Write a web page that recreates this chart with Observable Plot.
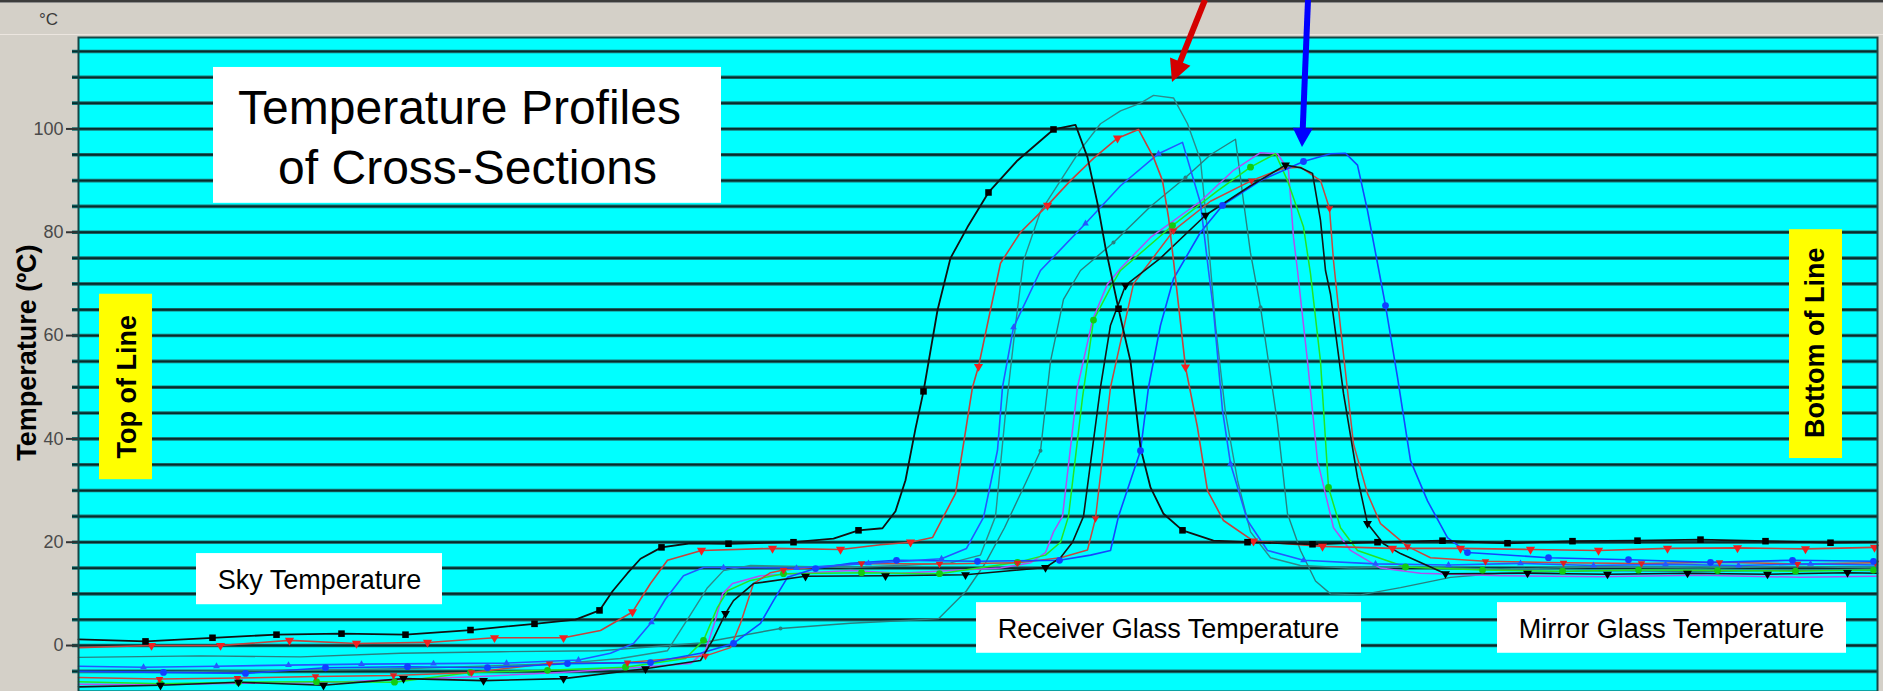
<!DOCTYPE html>
<html><head><meta charset="utf-8">
<script src="https://cdn.jsdelivr.net/npm/d3@7"></script>
<script src="https://cdn.jsdelivr.net/npm/@observablehq/plot@0.6"></script>
<style>
html,body{margin:0;padding:0;background:#d4d0c8;overflow:hidden}
#chart{width:1883px;height:691px}
</style></head>
<body><div id="chart"></div>
<script>
// ---- Data: [scan position, temperature °C, marker flag] ----
const blackSquares = [[0,1.2],[6.7,0.8,1],[13.4,1.5,1],[19.8,2.1,1],[26.3,2.3,1],[32.7,2.1,1],[39.2,3.0,1],[45.6,4.2,1],[49.7,5.0],[52.1,6.8,1],[53.4,10.5],[54.9,14.0],[56.2,16.8],[58.3,19.0,1],[61.2,19.8],[65.0,19.7,1],[71.5,20.0,1],[75.5,20.7],[78.0,22.3,1],[80.4,22.7],[81.7,26.0],[82.7,32.0],[83.7,42.0],[84.5,49.2,1],[85.9,64.9],[87.2,75.0],[88.9,81.0],[91.0,87.7,1],[93.9,93.9],[97.5,99.9,1],[99.7,100.8],[100.9,94.5],[101.9,85.6],[102.7,77.0],[104.0,65.2,1],[105.2,55.0],[106.2,38.3],[107.2,30.6],[108.5,25.5],[110.4,22.3,1],[113.5,20.3],[116.9,20.0,1],[123.4,19.6,1],[129.9,20.0,1],[136.4,20.3,1],[142.9,19.8,1],[149.4,20.2,1],[155.9,20.3,1],[162.2,20.5,1],[168.7,20.2,1],[175.2,19.9,1],[179.9,20.0]];
const redTriangles = [[0,-0.4],[7.3,0.0,1],[14.2,0.0,1],[21.1,1.0,1],[27.8,0.4,1],[34.9,0.6,1],[41.6,1.5,1],[48.5,1.5,1],[52.2,2.9],[55.4,6.5,1],[57.2,12.0],[58.9,16.5],[62.3,18.4,1],[69.4,18.8,1],[76.2,18.6,1],[80.2,19.5],[83.2,20.0,1],[85.4,20.9],[87.7,29.4],[88.4,37.8],[89.4,50.0],[90.0,54.0,1],[91.2,65.0],[92.2,74.0],[94.2,80.0],[96.9,85.2,1],[99.2,90.0],[101.5,94.3],[103.9,98.2,1],[106.0,99.9],[107.5,94.5],[108.4,90.0],[109.0,82.9],[109.5,74.5],[110.7,53.9,1],[111.9,42.2],[112.9,30.0],[114.5,24.2],[117.5,20.2,1],[124.4,19.2,1],[131.4,18.8,1],[138.2,18.8,1],[145.2,18.6,1],[152.0,18.4,1],[158.9,18.8,1],[165.9,18.9,1],[172.7,18.7,1],[179.6,19.0,1]];
const tealHigh = [[0,-5.2],[12.2,-5.0],[22.2,-4.8],[32.2,-4.5],[40.2,-4.0],[48.2,-3.5],[54.2,-2.5],[58.9,-1.0],[61.2,6.0],[62.9,11.2],[64.5,14.5],[67.2,15.5],[72.2,15.3],[77.2,15.1],[82.2,15.5],[87.2,16.0],[90.2,17.5],[91.7,25.0],[92.7,45.0],[93.7,62.0],[94.5,74.5],[96.2,84.0],[98.2,90.0],[100.2,96.0],[102.2,101.0],[104.2,103.5],[106.2,105.0],[107.5,106.5],[109.5,106.0],[110.9,101.0],[112.2,94.0],[112.9,80.0],[113.7,62.0],[114.7,45.0],[115.9,32.0],[117.2,22.0],[119.2,17.0],[122.2,15.5],[127.2,15.0],[132.2,15.2],[142.2,14.8],[152.2,15.2],[162.2,15.0],[172.2,15.3],[179.9,15.0]];
const tealLate = [[0,-2.3],[12.2,-2.0],[22.2,-2.2],[32.2,-1.5],[42.2,-1.2],[52.2,-1.0],[62.2,0.5],[70.2,3.3,1],[77.2,4.3],[82.2,4.8],[86.0,5.2],[88.8,10.6],[90.7,16.0],[92.6,22.8],[94.7,31.4],[96.2,37.7,1],[97.2,55.0],[98.5,67.0],[100.2,72.6],[103.5,78.0,1],[107.2,85.0],[110.7,90.6,1],[113.2,95.0],[115.7,98.0],[116.5,86.0],[117.2,76.0],[118.2,65.5,1],[119.9,43.0],[120.9,25.5],[122.2,18.4],[123.7,12.5],[125.2,10.0],[128.2,9.8],[132.2,11.2],[137.2,13.2],[142.2,14.0],[152.2,14.5],[162.2,14.3],[172.2,14.6],[179.9,14.5]];
const blueEarly = [[0,-4.0],[6.5,-4.2,1],[13.8,-4.0,1],[21.0,-3.8,1],[28.3,-3.6,1],[35.5,-3.5,1],[42.8,-3.4,1],[50.0,-2.8,1],[53.2,-1.5],[55.5,0.4],[57.3,4.5,1],[58.7,9.0],[60.5,13.5],[62.5,15.1],[64.5,15.1,1],[71.8,15.0,1],[79.0,15.9,1],[86.3,16.8,1],[88.8,18.8],[90.5,24.8],[91.9,37.8],[92.4,50.0],[93.5,61.6,1],[96.2,72.6],[100.7,81.7,1],[104.2,89.0],[108.0,95.2,1],[110.4,97.4],[112.2,85.6],[113.0,72.6],[113.5,64.9],[114.4,45.5],[115.2,35.2,1],[116.9,24.2],[118.9,18.4],[122.5,16.5,1],[129.7,15.8,1],[137.0,15.6,1],[144.2,15.9,1],[151.5,15.5,1],[158.7,15.7,1],[166.0,15.5,1],[173.2,15.8,1],[179.9,15.6]];
const blueCircles = [[0,-5.0],[8.5,-5.2,1],[16.7,-5.4,1],[24.7,-4.3,1],[32.9,-4.1,1],[40.9,-4.3,1],[48.9,-3.5,1],[57.2,-3.3,1],[62.2,-1.5],[65.5,0.4,1],[68.2,4.3],[69.5,8.7],[70.9,13.2],[73.7,14.9,1],[77.2,15.9],[81.8,16.5,1],[89.9,16.3,1],[98.1,16.5,1],[101.2,17.5],[103.2,18.4],[104.0,25.0],[106.2,37.7,1],[107.0,50.0],[108.2,62.0],[109.5,71.0],[112.2,80.0],[114.4,85.2,1],[118.2,90.0],[122.5,93.7,1],[125.2,95.2],[126.7,95.3],[127.9,93.0],[128.9,84.2],[129.9,74.0],[130.7,65.8,1],[131.9,51.9],[133.2,35.8],[134.9,28.0],[136.9,20.9],[138.9,18.0,1],[147.0,17.0,1],[155.0,16.6,1],[163.2,16.1,1],[171.4,16.5,1],[179.5,16.3,1]];
const greenCircles = [[0,-7.0],[8.2,-7.4,1],[16.0,-7.1,1],[23.8,-7.0,1],[31.6,-7.1,1],[39.2,-5.2,1],[46.9,-4.8,1],[54.7,-4.2,1],[60.7,-2.5],[62.5,1.0,1],[63.9,7.4],[64.9,10.6],[67.2,12.6],[70.5,13.9,1],[78.3,14.1,1],[86.1,13.9,1],[93.9,16.1,1],[96.7,17.5],[98.2,20.0],[99.0,25.0],[100.4,48.0],[101.5,63.0,1],[103.4,70.0],[104.2,72.6],[109.4,81.3,1],[113.9,88.0],[117.2,92.6,1],[119.7,95.2],[120.9,90.0],[122.5,81.0],[123.2,72.0],[124.2,55.0],[125.0,30.6,1],[126.2,22.8],[127.9,18.4],[132.7,15.2,1],[140.4,14.6,1],[148.4,14.4,1],[156.0,14.6,1],[163.9,14.5,1],[171.7,14.4,1],[179.5,14.6,1]];
const violet = [[0,-7.5],[8.2,-7.6],[16.2,-7.3],[24.2,-7.2],[32.2,-6.6],[40.2,-6.0],[48.2,-5.2],[56.2,-4.2],[61.2,-3.5],[62.7,-1.0],[63.7,5.0],[64.4,10.0],[65.4,12.0],[68.2,13.5],[72.2,14.0],[77.2,14.5],[82.2,14.0],[87.2,14.5],[92.2,15.0],[95.2,16.0],[96.7,18.0],[97.5,22.0],[98.4,25.0],[99.9,50.0],[101.4,63.0],[102.9,70.0],[104.2,73.0],[107.2,79.0],[112.2,86.0],[115.5,92.0],[118.2,95.4],[119.9,95.2],[121.0,92.0],[121.5,79.0],[121.9,72.6],[122.9,55.0],[123.9,35.8],[125.5,22.8],[127.2,18.4],[130.2,15.0],[134.2,14.0],[142.2,13.5],[152.2,13.3],[162.2,13.6],[172.2,13.2],[179.9,13.4]];
const blackTriangles = [[0,-8.0],[8.2,-7.7,1],[16.0,-7.1,1],[24.5,-7.7,1],[32.5,-6.4,1],[40.5,-6.8,1],[48.5,-6.4,1],[56.7,-4.5,1],[62.2,-2.9],[63.4,1.0],[64.7,6.2,1],[65.5,8.7],[67.5,12.0],[72.7,13.4,1],[80.7,13.5,1],[88.7,13.7,1],[96.7,15.1,1],[98.2,17.0],[99.4,20.0],[100.5,25.0],[102.2,50.0],[103.2,62.0],[104.7,69.7,1],[108.2,75.0],[112.7,83.3,1],[117.2,89.0],[120.7,93.0,1],[122.2,92.5],[123.4,91.4],[124.2,82.3],[124.7,72.6],[125.2,68.0],[126.5,48.8],[127.9,32.5],[128.9,23.6,1],[130.5,19.7],[132.2,17.8],[136.7,13.9,1],[144.9,14.0,1],[152.9,13.8,1],[160.9,14.0,1],[168.9,13.8,1],[176.9,14.1,1],[179.9,14.0]];
const redLate = [[0,-6.2],[8.1,-6.5,1],[15.9,-6.3,1],[23.7,-6.0,1],[31.5,-5.8,1],[39.3,-5.2,1],[47.1,-3.5,1],[54.9,-3.3,1],[62.7,-2.0,1],[65.2,-0.4],[66.2,4.3],[67.5,12.0],[69.2,14.1],[70.5,14.6,1],[78.3,15.9,1],[86.1,15.8,1],[93.9,16.0,1],[98.2,17.0],[100.9,18.5],[101.7,24.6,1],[103.2,50.0],[105.5,70.0],[106.5,72.6],[109.5,80.3,1],[113.2,86.0],[117.3,90.0,1],[120.5,92.4],[122.2,92.6],[124.2,90.0],[125.1,84.6,1],[125.5,74.5],[126.2,61.6],[127.5,39.0],[128.9,29.4],[130.2,23.6],[132.9,19.2,1],[135.2,17.0],[140.7,16.3,1],[148.5,16.0,1],[156.3,15.9,1],[164.1,16.1,1],[171.9,15.8,1],[179.7,16.0,1]];

const gridLevels = [-5,0,5,10,15,20,25,30,35,40,45,50,55,60,65,70,75,80,85,90,95,100,105,110,115];
const yTicks = [0,20,40,60,80,100];

// ---- Styles ----
const FONT = '"Liberation Sans", Arial, Helvetica, sans-serif';
const seriesStyles = [
  {data: tealHigh,      stroke: "#2e8a8a", width: 1.4},
  {data: tealLate,      stroke: "#2a7f7f", width: 1.4, symbol: "circle", r: 2.0, fill: "#2a7f7f"},
  {data: violet,        stroke: "#b050f0", width: 1.5},
  {data: greenCircles,  stroke: "#22e622", width: 1.5, symbol: "circle", r: 3.4, fill: "#12cc12"},
  {data: redLate,       stroke: "#c8483f", width: 1.5, symbol: "triangle", rotate: 180, r: 2.8, fill: "#e02020"},
  {data: blueCircles,   stroke: "#1446ff", width: 1.6, symbol: "circle", r: 3.4, fill: "#1040ff"},
  {data: blueEarly,     stroke: "#2458ff", width: 1.6, symbol: "triangle", r: 2.5, fill: "#2458ff"},
  {data: blackTriangles,stroke: "#151515", width: 1.6, symbol: "triangle", rotate: 180, r: 3.3, fill: "#000"},
  {data: redTriangles,  stroke: "#c6423c", width: 1.6, symbol: "triangle", rotate: 180, r: 3.4, fill: "#f02020"},
  {data: blackSquares,  stroke: "#111111", width: 1.8, symbol: "square", r: 3.7, fill: "#000"}
];

// ---- Annotations (in data coordinates) ----
const whiteBoxes = [
  {x1: 13.5, x2: 64.3, y1: 85.6, y2: 111.9},
  {x1: 11.8, x2: 36.4, y1: 7.9, y2: 17.8},
  {x1: 89.8, x2: 128.3, y1: -1.5, y2: 8.3},
  {x1: 141.9, x2: 176.8, y1: -1.5, y2: 8.3}
];
const yellowBoxes = [
  {x1: 2.1, x2: 7.4, y1: 32.1, y2: 68.0},
  {x1: 171.1, x2: 176.4, y1: 36.2, y2: 80.5}
];
const titleLines = [
  {x: 38.1, y: 100.9, text: "Temperature Profiles"},
  {x: 38.9, y: 89.4, text: "of Cross-Sections"}
];
const regionLabels = [
  {x: 24.1, y: 11.0, text: "Sky Temperature"},
  {x: 109.0, y: 1.4, text: "Receiver Glass Temperature"},
  {x: 159.3, y: 1.5, text: "Mirror Glass Temperature"}
];
const sideLabels = [
  {x: 4.9, y: 50.1, text: "Top of Line"},
  {x: 173.7, y: 58.6, text: "Bottom of Line"}
];
const arrows = [
  {x1: 112.7, y1: 124.9, x2: 109.4, y2: 109.0, color: "#d40000", w: 6, hl: 22, hw: 11},
  {x1: 123.0, y1: 124.9, x2: 122.4, y2: 96.4, color: "#0000ff", w: 6, hl: 19, hw: 10}
];

const toRows = a => a.map(([x, t, m]) => ({x, t, marker: m === 1}));

const lineMarks = seriesStyles.map(s =>
  Plot.line(toRows(s.data), {x: "x", y: "t", stroke: s.stroke, strokeWidth: s.width, strokeLinejoin: "round"}));
const dotMarks = seriesStyles.filter(s => s.symbol).map(s =>
  Plot.dot(toRows(s.data).filter(d => d.marker), {x: "x", y: "t", symbol: s.symbol, r: s.r, fill: s.fill, stroke: "none", rotate: s.rotate || 0}));

function headerMark(index, scales, values, dimensions) {
  const g = d3.create("svg:g");
  g.append("rect").attr("x", 0).attr("y", 0).attr("width", dimensions.width).attr("height", 2).attr("fill", "#3c3c3c");
  g.append("rect").attr("x", 0).attr("y", 2).attr("width", dimensions.width).attr("height", 1).attr("fill", "#8e8e8e");
  g.append("rect").attr("x", 0).attr("y", 34).attr("width", dimensions.width).attr("height", 1).attr("fill", "#ece6e0");
  return g.node();
}
function arrowMark(index, scales) {
  const g = d3.create("svg:g");
  for (const a of arrows) {
    const x1 = scales.x(a.x1), y1 = scales.y(a.y1), x2 = scales.x(a.x2), y2 = scales.y(a.y2);
    const dx = x2 - x1, dy = y2 - y1, len = Math.hypot(dx, dy), ux = dx / len, uy = dy / len;
    const bx = x2 - ux * a.hl, by = y2 - uy * a.hl;
    g.append("line").attr("x1", x1).attr("y1", y1).attr("x2", bx + ux * 2).attr("y2", by + uy * 2)
      .attr("stroke", a.color).attr("stroke-width", a.w);
    g.append("path").attr("d", `M${x2},${y2}L${bx - uy * a.hw},${by + ux * a.hw}L${bx + uy * a.hw},${by - ux * a.hw}Z`)
      .attr("fill", a.color);
  }
  return g.node();
}

const chart = Plot.plot({
  width: 1883,
  height: 691,
  marginLeft: 78,
  marginRight: 6,
  marginTop: 37,
  marginBottom: 0,
  x: {domain: [0, 179.9], axis: null},
  y: {domain: [-8.9, 117.7], axis: null},
  style: {fontFamily: FONT, background: "#d4d0c8", overflow: "visible"},
  marks: [
    Plot.frame({fill: "#00ffff"}),
    Plot.ruleY(gridLevels, {x1: -0.6, x2: 179.9, stroke: "#1a7676", strokeWidth: 3.6}),
    Plot.ruleY(gridLevels, {x1: -0.6, x2: 179.9, stroke: "#062c2c", strokeWidth: 1.8}),
    Plot.ruleY(yTicks, {x1: -1.2, x2: 0, stroke: "#333", strokeWidth: 2}),
    Plot.text(yTicks, {x: -1.5, y: d => d, text: d => String(d), textAnchor: "end", lineAnchor: "middle", fontSize: 18, fill: "#4a4a4a"}),
    ...lineMarks,
    ...dotMarks,
    Plot.rect(whiteBoxes, {x1: "x1", x2: "x2", y1: "y1", y2: "y2", fill: "#ffffff"}),
    Plot.rect(yellowBoxes, {x1: "x1", x2: "x2", y1: "y1", y2: "y2", fill: "#ffff00"}),
    Plot.text(titleLines, {x: "x", y: "y", text: "text", fontSize: 48, lineAnchor: "bottom", fill: "#000"}),
    Plot.text(regionLabels, {x: "x", y: "y", text: "text", fontSize: 27, lineAnchor: "bottom", fill: "#000"}),
    Plot.text(sideLabels, {x: "x", y: "y", text: "text", fontSize: 27, fontWeight: "bold", rotate: -90, lineAnchor: "middle", fill: "#000"}),
    Plot.text(["Temperature (ºC)"], {x: -5.1, y: 56.7, text: d => d, fontSize: 27, fontWeight: "bold", rotate: -90, lineAnchor: "middle", fill: "#000"}),
    Plot.text(["°C"], {x: -3.0, y: 121.1, text: d => d, fontSize: 17, lineAnchor: "middle", fill: "#3a3a3a"}),
    Plot.frame({stroke: "#164646", strokeWidth: 2}),
    headerMark,
    arrowMark
  ]
});
document.getElementById("chart").appendChild(chart);
</script>
</body></html>
